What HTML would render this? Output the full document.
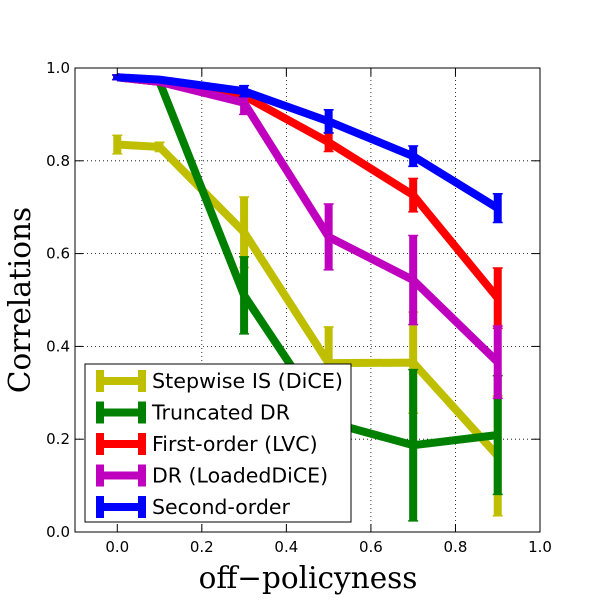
<!DOCTYPE html>
<html><head><meta charset="utf-8"><style>
body{margin:0;background:#fff;}
svg text{font-family:"DejaVu Sans","Liberation Sans",sans-serif;}
</style></head><body>
<svg id="chart" width="600" height="600" viewBox="0 0 600 600">
<rect x="0" y="0" width="600" height="600" fill="#fff"/>
<g id="grid"></g>
<g id="series"></g>
<rect x="75" y="68" width="465" height="464" fill="none" stroke="#000" stroke-width="1"/>
<g id="ticks"></g>
<text x="308" y="588" text-anchor="middle" font-size="29.5" style="font-family:'DejaVu Serif','Liberation Serif',serif">off−policyness</text>
<text transform="translate(30,300) rotate(-90)" text-anchor="middle" font-size="29.5" style="font-family:'DejaVu Serif','Liberation Serif',serif">Correlations</text>
<g id="legend"></g>
</svg>
<script>
const xs=[0,0.1,0.3,0.5,0.7,0.9];
const names=["Stepwise IS (DiCE)","Truncated DR","First-order (LVC)","DR (LoadedDiCE)","Second-order"];
const colors=["#bfbf00","#008000","#ff0000","#bf00bf","#0000ff"];
const stepwiseIS=[0.835,0.83,0.646,0.364,0.365,0.164];
const stepwiseErr=[0.02,0.01,0.076,0.078,0.109,0.129];
const truncDR=[0.98,0.97,0.51,0.237,0.187,0.209];
const truncErr=[0.005,0.005,0.083,0.02,0.163,0.128];
const firstOrder=[0.98,0.97,0.94,0.84,0.726,0.504];
const firstErr=[0.005,0.005,0.01,0.02,0.036,0.065];
const drLoaded=[0.98,0.97,0.925,0.636,0.543,0.366];
const drErr=[0.005,0.005,0.025,0.071,0.096,0.078];
const secondOrder=[0.98,0.975,0.95,0.885,0.81,0.698];
const secondErr=[0.005,0.005,0.012,0.025,0.022,0.031];
const xTicks=[0.0,0.2,0.4,0.6,0.8,1.0];
const yTicks=[0.0,0.2,0.4,0.6,0.8,1.0];
const vals=[stepwiseIS,truncDR,firstOrder,drLoaded,secondOrder];
const errs=[stepwiseErr,truncErr,firstErr,drErr,secondErr];
const NS="http://www.w3.org/2000/svg";
const X=v=>75+(v+0.1)/1.1*465, Y=v=>532-v*464;
function mk(t,a,p){const e=document.createElementNS(NS,t);for(const k in a)e.setAttribute(k,a[k]);p.appendChild(e);return e;}
const grid=document.getElementById('grid'),ticks=document.getElementById('ticks');
xTicks.forEach(t=>{
 if(t>0&&t<1){const l=mk('line',{x1:X(t),x2:X(t),y1:68,y2:532,stroke:'#000','stroke-dasharray':'1,3','stroke-width':0.8},grid);
 }
 mk('line',{x1:X(t),x2:X(t),y1:532,y2:524,stroke:'#000'},ticks);mk('line',{x1:X(t),x2:X(t),y1:68,y2:76,stroke:'#000'},ticks);
 const tx=mk('text',{x:X(t),y:552,'text-anchor':'middle','font-size':15},ticks);tx.textContent=t.toFixed(1);
 
});
yTicks.forEach(t=>{
 if(t>0&&t<1){const l=mk('line',{x1:75,x2:540,y1:Y(t),y2:Y(t),stroke:'#000','stroke-dasharray':'1,3','stroke-width':0.8},grid);
 }
 mk('line',{x1:75,x2:83,y1:Y(t),y2:Y(t),stroke:'#000'},ticks);mk('line',{x1:540,x2:532,y1:Y(t),y2:Y(t),stroke:'#000'},ticks);
 const tx=mk('text',{x:70,y:Y(t)+5,'text-anchor':'end','font-size':15},ticks);tx.textContent=t.toFixed(1);
 
});
const sg=document.getElementById('series');
vals.forEach((s,i)=>{
 const g=mk('g',{},sg);
 
 
 const pl=mk('polyline',{points:xs.map((x,j)=>X(x)+','+Y(s[j])).join(' '),fill:'none',stroke:colors[i],'stroke-width':8},g);
 
 xs.forEach((x,j)=>{
  const lo=Y(s[j]-errs[i][j]),hi=Y(s[j]+errs[i][j]);
  const eb=mk('line',{x1:X(x),x2:X(x),y1:hi,y2:lo,stroke:colors[i],'stroke-width':8},g);
  
  mk('line',{x1:X(x)-5,x2:X(x)+5,y1:hi,y2:hi,stroke:colors[i],'stroke-width':1.5},g);
  mk('line',{x1:X(x)-5,x2:X(x)+5,y1:lo,y2:lo,stroke:colors[i],'stroke-width':1.5},g);
 });
});
const lg=document.getElementById('legend');
mk('rect',{x:85,y:364,width:266,height:158,fill:'#fff',stroke:'#000'},lg);
names.forEach((n,i)=>{
 const y=381+i*31.5;
 const e=mk('g',{},lg);
 
 
 mk('line',{x1:100,x2:142,y1:y,y2:y,stroke:colors[i],'stroke-width':8},e);
 mk('line',{x1:100,x2:100,y1:y-11,y2:y+11,stroke:colors[i],'stroke-width':8},e);
 mk('line',{x1:142,x2:142,y1:y-11,y2:y+11,stroke:colors[i],'stroke-width':8},e);
 const t=mk('text',{x:152,y:y+7,'font-size':19,textLength:191,lengthAdjust:'spacingAndGlyphs'},e);t.textContent=n;
 if(i>0){t.removeAttribute('textLength');t.removeAttribute('lengthAdjust');t.setAttribute('font-size','20.5');}
 else t.setAttribute('font-size','20.5');
});
</script>
</body></html>
